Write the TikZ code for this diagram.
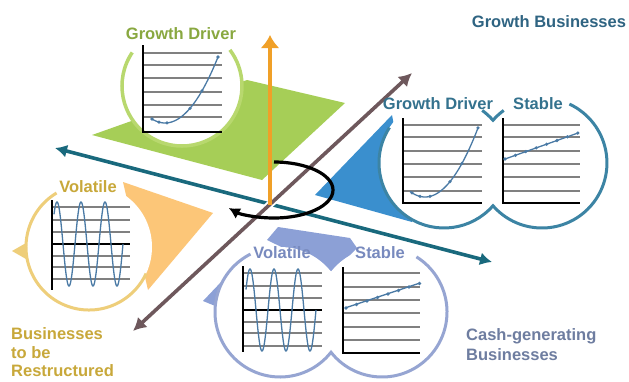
\documentclass[tikz,border=0pt]{standalone}
\usepackage{fontspec}
\setmainfont{Liberation Sans}
\usepackage{xcolor}
\usetikzlibrary{arrows.meta}
\definecolor{leafgreen}{HTML}{A6CE57}
\definecolor{leafline}{HTML}{B8D86E}
\definecolor{leaftext}{HTML}{89A840}
\definecolor{amber}{HTML}{F0A028}
\definecolor{deepteal}{HTML}{19697D}
\definecolor{mauvebrown}{HTML}{6E585C}
\definecolor{skyblue}{HTML}{3A8FCE}
\definecolor{seablue}{HTML}{3C84A4}
\definecolor{seatext}{HTML}{34728E}
\definecolor{titleblue}{HTML}{2F6482}
\definecolor{sandorange}{HTML}{FCC678}
\definecolor{goldline}{HTML}{EECE7A}
\definecolor{goldtext}{HTML}{C8A83A}
\definecolor{periwinkle}{HTML}{8CA0D6}
\definecolor{haze}{HTML}{96A5D2}
\definecolor{hazetext}{HTML}{788ABE}
\definecolor{cashtext}{HTML}{6E7DA0}
\definecolor{gridgray}{HTML}{808080}
\definecolor{curveblue}{HTML}{4A7AA5}

\begin{document}
\begin{tikzpicture}[
    x=1pt, y=-1pt,
    bubble/.style={circle, fill=white, inner sep=0pt, outer sep=0pt},
    tagtext/.style={font=\bfseries\fontsize{16.5}{20}\selectfont, inner sep=0pt, anchor=base},
    gridline/.style={draw=gridgray, line width=1.7pt},
    chartaxis/.style={draw=black, line width=1.4pt},
    midline/.style={draw=black, line width=2.2pt},
    trend/.style={draw=curveblue, line width=1.3pt},
    axisline/.style={line width=3.6pt},
    haloline/.style={line width=3.6pt, preaction={draw=white, line width=7.5pt}},
    spinarrow/.style={draw=black, line width=3.2pt, -{Latex[length=11pt,width=12pt]}}
]
    \fill[white] (0,0) rectangle (629,381);
    \useasboundingbox (0,0) rectangle (629,381);

    \coordinate (ctr) at (270,205);
    \coordinate (vtop) at (270,35);
    \coordinate (hleft) at (55,148);
    \coordinate (hright) at (492,262);
    \coordinate (dlow) at (133,331);
    \coordinate (dup) at (412,73);
    \coordinate (spin) at (274,190);

    \fill[leafgreen] (247,80) -- (345,103) -- (262,180) -- (92,135) -- cycle;
    \fill[sandorange] (123,182) -- (213,213) -- (148,290) -- cycle;
    \fill[skyblue] (315,195) -- (392,115) -- (412,222) -- cycle;
    \fill[periwinkle] (267,240) -- (278,227) -- (350,238) -- (357,248) -- (333,272) -- cycle;
    \fill[periwinkle] (203,301) -- (240,262) -- (225,310) -- cycle;
    \fill[goldline] (12,251) -- (26,243) -- (26,259) -- cycle;

    \node[bubble, minimum size=120pt] (gdbub) at (182,86) {};
    \node[bubble, minimum size=126pt] (volbub) at (89,247) {};
    \node[bubble, minimum size=130pt] (gdlobe) at (444,163) {};
    \node[bubble, minimum size=130pt] (stlobe) at (542,163) {};
    \node[bubble, minimum size=130pt] (vollobe) at (280,312) {};
    \node[bubble, minimum size=130pt] (cashlobe) at (382,312) {};

    \draw[leafline, line width=3.5pt] (gdbub.146) arc[start angle=146, end angle=397, radius=60pt];
    \draw[goldline, line width=3pt] (volbub.121) arc[start angle=121, end angle=335, radius=63pt];
    \draw[seablue, line width=3pt] (gdlobe.147) arc[start angle=147, end angle=318.9, radius=65pt]
        arc[start angle=221.1, end angle=425, radius=65pt];
    \draw[seablue, line width=3pt] (gdlobe.54) arc[start angle=54, end angle=41.1, radius=65pt]
        arc[start angle=138.9, end angle=126, radius=65pt];
    \draw[haze, line width=3pt] (vollobe.117) arc[start angle=117, end angle=321.7, radius=65pt]
        arc[start angle=218.3, end angle=418, radius=65pt];

    \foreach \gy in {53,65,78,92,105,117}
        \draw[gridline] (143,\gy) -- (222,\gy);
    \draw[chartaxis] (143,45) -- (143,132) -- (222,132);
    \draw[trend] plot[domain=152:218, samples=40] (\x, {123-0.0235*(\x-165)^2});
    \foreach \px in {152,159,167,190,202,218}
        \fill[curveblue] (\px, {123-0.0235*(\px-165)^2}) circle[radius=1.8pt];

    \foreach \gy in {125,137,151,164,177,191} {
        \draw[gridline] (403,\gy) -- (482,\gy);
        \draw[gridline] (503,\gy) -- (580,\gy);
    }
    \draw[chartaxis] (403,118) -- (403,203) -- (482,203);
    \draw[chartaxis] (503,118) -- (503,203) -- (580,203);
    \draw[trend] plot[domain=410:478, samples=40] (\x, {197-0.0246*(\x-425)^2});
    \foreach \px in {412,420,430,450,462,478}
        \fill[curveblue] (\px, {197-0.0246*(\px-425)^2}) circle[radius=1.8pt];
    \draw[trend] (505,159) -- (578,133);
    \foreach \k in {0,...,7}
        \fill[curveblue] ({505+\k*10.4}, {159-\k*3.7}) circle[radius=1.8pt];

    \foreach \gy in {207,220,232,256,267,279}
        \draw[gridline] (52,\gy) -- (130,\gy);
    \draw[midline] (52,244) -- (130,244);
    \draw[chartaxis] (52,200) -- (52,290);
    \draw[trend] plot[domain=54:123, samples=150] (\x, {244-42*cos(15*(\x-57))});

    \foreach \gy in {273,286,298,322,333,346}
        \draw[gridline] (243,\gy) -- (322,\gy);
    \draw[midline] (243,310) -- (322,310);
    \draw[chartaxis] (243,266) -- (243,352);
    \draw[trend] plot[domain=246:316, samples=150] (\x, {310-41*cos(15*(\x-250))});

    \foreach \gy in {273,287,300,313,327,340}
        \draw[gridline] (343,\gy) -- (420,\gy);
    \draw[chartaxis] (343,267) -- (343,353) -- (420,353);
    \draw[trend] (345,308) -- (420,283);
    \foreach \k in {0,...,7}
        \fill[curveblue] ({346+\k*10.5}, {308-\k*3.5}) circle[radius=1.8pt];

    \draw[axisline, draw=deepteal, {Latex[length=12pt,width=13pt]}-{Latex[length=12pt,width=13pt]}] (hleft) -- (hright);
    \draw[haloline, draw=mauvebrown, {Latex[length=13pt,width=14pt]}-{Latex[length=13pt,width=14pt]}] (dlow) -- (dup);
    \draw[axisline, draw=amber, -{Latex[length=13pt,width=19pt]}] (ctr) -- (vtop);
    \draw[spinarrow] ([shift={(90:59pt and 28pt)}]spin) arc[start angle=90, end angle=-140, x radius=59pt, y radius=28pt];

    \node[tagtext, text=leaftext] (gdtitle) at (181,39) {Growth Driver};
    \node[tagtext, text=titleblue] (growthbiz) at (549,27) {Growth Businesses};
    \node[tagtext, text=seatext] (gdright) at (438,109) {Growth Driver};
    \node[tagtext, text=seatext] (stright) at (538,109) {Stable};
    \node[tagtext, text=goldtext] (volleft) at (88,192) {Volatile};
    \node[tagtext, text=hazetext] (volbot) at (282,258) {Volatile};
    \node[tagtext, text=hazetext] (stbot) at (380,258) {Stable};
    \node[tagtext, text=goldtext, anchor=base west] (restr1) at (11,339) {Businesses};
    \node[tagtext, text=goldtext, anchor=base west] (restr2) at (11,358) {to be};
    \node[tagtext, text=goldtext, anchor=base west] (restr3) at (11,376) {Restructured};
    \node[tagtext, text=cashtext, anchor=base west] (cash1) at (466,340) {Cash-generating};
    \node[tagtext, text=cashtext, anchor=base west] (cash2) at (466,360) {Businesses};
\end{tikzpicture}
\end{document}
